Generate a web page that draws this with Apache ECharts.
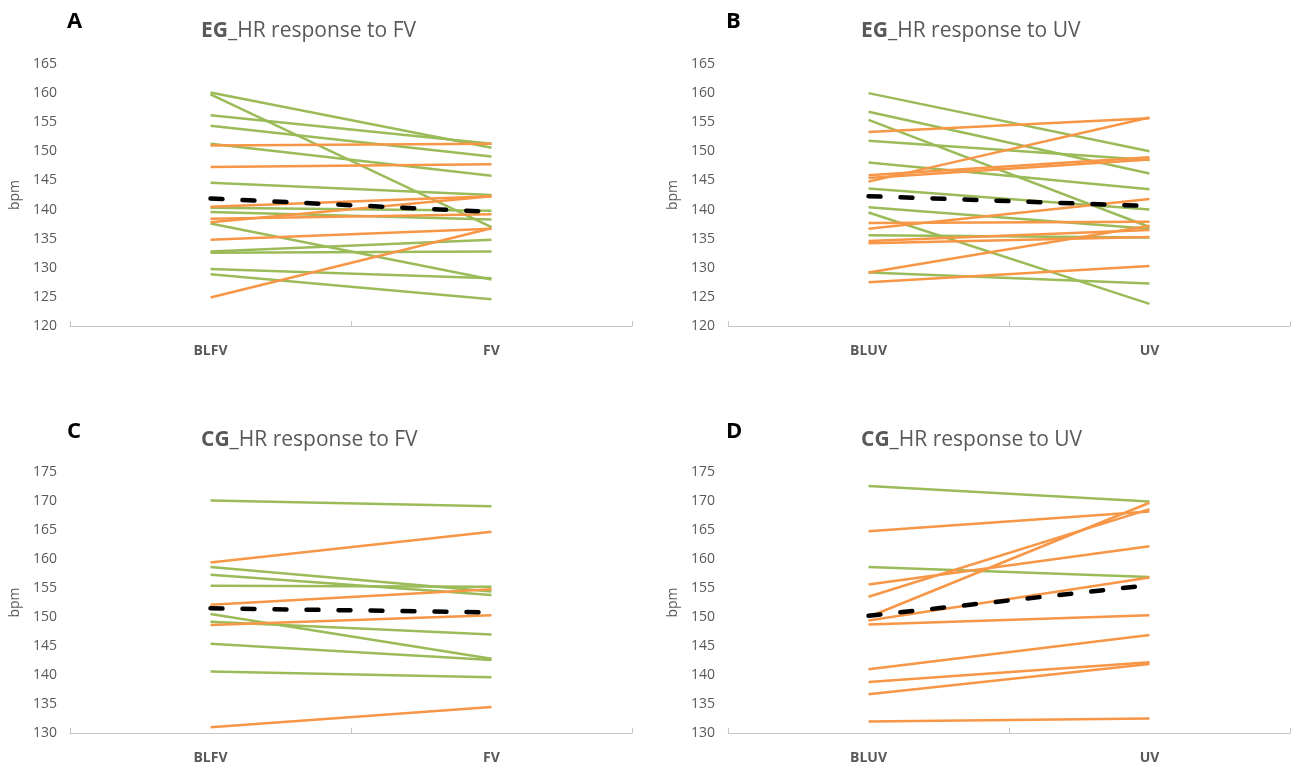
<!DOCTYPE html>
<html><head><meta charset="utf-8">
<script src="https://cdn.jsdelivr.net/npm/echarts@6/dist/echarts.min.js"></script>
<style>html,body{margin:0;padding:0;background:#fff}#c{width:1296px;height:767px}</style>
</head><body><div id="c"></div>
<script>
// ---------- data ----------
const catsFV = ['BLFV', 'FV'];
const catsUV = ['BLUV', 'UV'];
const panelLetters = ['A', 'B', 'C', 'D'];
const panelGroups = ['EG', 'EG', 'CG', 'CG'];
const panelTitles = ['_HR response to FV', '_HR response to UV', '_HR response to FV', '_HR response to UV'];
const yRangeTop = [120, 165];
const yRangeBottom = [130, 175];
const yStep = 5;
const yName = 'bpm';

// Panel A: EG, FV  [baseline, response]
const egFvGreen = [[160.1,150.6],[159.8,137.0],[156.2,151.3],[154.4,149.1],[151.3,145.8],[144.6,142.5],[140.3,139.8],[139.6,138.3],[137.6,128.0],[132.8,134.8],[132.6,132.8],[129.8,128.2],[128.9,124.6]];
const egFvOrange = [[151.0,151.3],[147.3,147.8],[140.5,142.3],[138.4,139.2],[137.8,142.3],[134.8,136.7],[124.9,136.8]];
const egFvMean = [141.9, 139.6];

// Panel B: EG, UV
const egUvGreen = [[160.0,150.0],[156.8,146.2],[155.4,137.0],[151.8,148.5],[148.1,143.5],[143.6,140.0],[140.4,136.7],[139.5,123.8],[135.6,135.2],[129.2,127.3]];
const egUvOrange = [[153.3,155.7],[145.9,149.0],[145.4,148.6],[144.8,155.8],[137.7,137.9],[136.7,141.8],[134.6,136.5],[134.2,135.3],[129.2,137.2],[127.5,130.3]];
const egUvMean = [142.3, 140.6];

// Panel C: CG, FV
const cgFvGreen = [[170.1,169.1],[158.6,154.4],[157.3,153.8],[155.4,155.2],[150.5,142.8],[149.2,147.0],[145.4,142.6],[140.6,139.6]];
const cgFvOrange = [[159.4,164.7],[152.1,154.8],[148.6,150.3],[131.0,134.5]];
const cgFvMean = [151.5, 150.8];

// Panel D: CG, UV
const cgUvGreen = [[172.6,169.9],[158.6,156.9]];
const cgUvOrange = [[164.8,168.2],[155.6,162.2],[153.5,168.6],[150.0,169.7],[149.4,156.8],[148.7,150.3],[141.0,146.9],[138.8,142.2],[136.7,141.9],[132.0,132.5]];
const cgUvMean = [150.2, 155.5];

// ---------- styling / layout ----------
const GREEN = '#9bbb59', ORANGE = '#f79646', TXT = '#595959', AXIS = '#c6c6c6';
const FONT = '"Open Sans", "Liberation Sans", sans-serif';
const grids = [
  {left: 70, top: 64, width: 562, height: 262},
  {left: 728, top: 64, width: 562, height: 262},
  {left: 70, top: 472, width: 562, height: 261},
  {left: 728, top: 472, width: 562, height: 261}
];
const panelCats = [catsFV, catsUV, catsFV, catsUV];
const panelRanges = [yRangeTop, yRangeTop, yRangeBottom, yRangeBottom];
const panelData = [
  [egFvGreen, egFvOrange, egFvMean],
  [egUvGreen, egUvOrange, egUvMean],
  [cgFvGreen, cgFvOrange, cgFvMean],
  [cgUvGreen, cgUvOrange, cgUvMean]
];
const letterPos = [[62, 6], [721, 6], [62, 416], [721, 416]];
const titlePos = [[196, 16], [856, 16], [196, 425], [856, 425]];

const titles = [];
panelLetters.forEach((L, i) => {
  titles.push({text: L, left: letterPos[i][0], top: letterPos[i][1],
    textStyle: {fontSize: 22, fontWeight: 'bold', color: '#000', fontFamily: FONT}});
  titles.push({text: '{b|' + panelGroups[i] + '}' + panelTitles[i], left: titlePos[i][0], top: titlePos[i][1],
    textStyle: {fontSize: 21, fontWeight: 'normal', color: TXT, fontFamily: FONT,
      rich: {b: {fontSize: 21, fontWeight: 'bold', color: TXT, fontFamily: FONT}}}});
});

const xAxes = [], yAxes = [], series = [];
grids.forEach((g, i) => {
  xAxes.push({type: 'category', gridIndex: i, data: panelCats[i], boundaryGap: true,
    axisLine: {show: true, lineStyle: {color: AXIS, width: 1}},
    axisTick: {show: true, inside: true, length: 5, lineStyle: {color: AXIS}},
    axisLabel: {color: TXT, fontWeight: 'bold', fontSize: 14, fontFamily: FONT, margin: 18},
    splitLine: {show: false}});
  yAxes.push({type: 'value', gridIndex: i, min: panelRanges[i][0], max: panelRanges[i][1], interval: yStep,
    name: yName, nameLocation: 'middle', nameGap: 48, nameRotate: 90,
    nameTextStyle: {color: TXT, fontSize: 14, fontFamily: FONT},
    axisLine: {show: false}, axisTick: {show: false}, splitLine: {show: false},
    axisLabel: {color: TXT, fontSize: 14, fontFamily: FONT, margin: 13}});
  const [gr, or, mean] = panelData[i];
  gr.forEach(v => series.push({type: 'line', xAxisIndex: i, yAxisIndex: i, data: v, symbol: 'none',
    lineStyle: {color: GREEN, width: 2.5}, z: 2, silent: true}));
  or.forEach(v => series.push({type: 'line', xAxisIndex: i, yAxisIndex: i, data: v, symbol: 'none',
    lineStyle: {color: ORANGE, width: 2.5}, z: 2, silent: true}));
  series.push({type: 'line', xAxisIndex: i, yAxisIndex: i, data: mean, symbol: 'none',
    lineStyle: {color: '#000', width: 4.5, type: [12, 20], cap: 'round'}, z: 5, silent: true});
});

const chart = echarts.init(document.getElementById('c'), null, {renderer: 'canvas'});
chart.setOption({
  animation: false,
  backgroundColor: '#fff',
  title: titles,
  grid: grids,
  xAxis: xAxes,
  yAxis: yAxes,
  series: series
});
</script></body></html>
